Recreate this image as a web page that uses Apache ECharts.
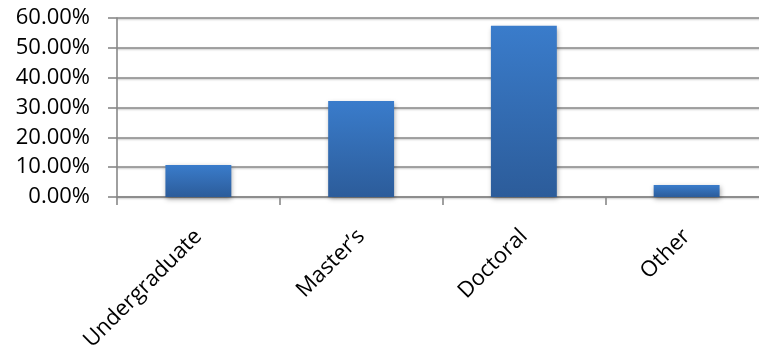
<!DOCTYPE html>
<html>
<head>
<meta charset="utf-8">
<script src="https://cdn.jsdelivr.net/npm/echarts@6/dist/echarts.min.js"></script>
<style>html,body{margin:0;padding:0;background:#fff;overflow:hidden;width:759px;height:354px;}#c{width:768px;height:354px;}</style>
</head>
<body>
<div id="c"></div>
<script>
const categories = ['Undergraduate', 'Master\u2019s', 'Doctoral', 'Other'];
const values = [10.7, 32.2, 57.4, 4.0];
const yTicks = { min: 0, max: 60, interval: 10 };

const chart = echarts.init(document.getElementById('c'), null, { renderer: 'canvas' });
const gray = '#888888';
chart.setOption({
  animation: false,
  grid: { left: 117, top: 18, right: 0, height: 179, containLabel: false },
  xAxis: {
    type: 'category',
    data: categories,
    boundaryGap: true,
    axisLine: { show: true, lineStyle: { color: gray, width: 1.6 } },
    axisTick: { show: true, length: 8, interval: 0, lineStyle: { color: gray, width: 1.6 } },
    axisLabel: {
      interval: 0, rotate: 45, margin: 36,
      fontFamily: 'Open Sans', fontSize: 22, color: '#000'
    }
  },
  yAxis: {
    type: 'value',
    min: yTicks.min, max: yTicks.max, interval: yTicks.interval,
    axisLine: { show: true, lineStyle: { color: gray, width: 1.6 } },
    axisTick: { show: true, length: 9, lineStyle: { color: gray, width: 1.6 } },
    splitLine: { show: true, lineStyle: { color: gray, width: 1.6, shadowColor: 'rgba(0,0,0,0.25)', shadowBlur: 2, shadowOffsetY: 1 } },
    axisLabel: {
      margin: 27, fontFamily: 'Open Sans', fontSize: 22, color: '#000',
      formatter: v => v.toFixed(2) + '%'
    }
  },
  series: [{
    type: 'bar',
    data: values,
    barWidth: '40.5%',
    itemStyle: {
      color: new echarts.graphic.LinearGradient(0, 0, 0, 1, [
        { offset: 0, color: '#3a7ccb' },
        { offset: 1, color: '#2c5c9a' }
      ]),
      shadowColor: 'rgba(0,0,0,0.35)', shadowBlur: 5, shadowOffsetX: 1, shadowOffsetY: 2
    }
  }]
});
</script>
</body>
</html>
